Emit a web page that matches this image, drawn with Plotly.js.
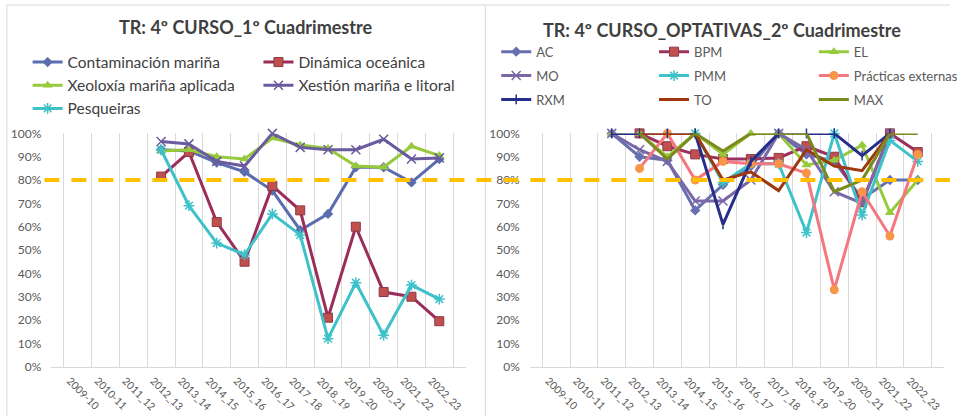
<!DOCTYPE html>
<html><head><meta charset="utf-8">
<script src="https://cdn.plot.ly/plotly-3.0.1.min.js"></script>
<style>html,body{margin:0;padding:0;background:#fff;} #chart{width:963px;height:416px;}</style>
</head><body><div id="chart"></div>
<script>
// ---- categories
const years = ["2009-10","2010-11","2011_12","2012_13","2013_14","2014_15","2015_16","2016_17","2017_18","2018_19","2019_20","2020_21","2021_22","2022_23"];

// ---- left chart: TR 4º CURSO_1º Cuadrimestre
const leftTitle = "TR: 4º CURSO_1º Cuadrimestre";
const contaminacion = [null,null,null,0.93,0.925,0.875,0.835,0.755,0.585,0.655,0.855,0.855,0.79,0.89];
const dinamica      = [null,null,null,0.815,0.92,0.62,0.45,0.775,0.67,0.21,0.60,0.32,0.30,0.195];
const xeoloxia      = [null,null,null,0.925,0.93,0.90,0.89,0.98,0.95,0.935,0.86,0.855,0.945,0.905];
const xestion       = [null,null,null,0.965,0.955,0.88,0.86,1.00,0.94,0.93,0.93,0.975,0.89,0.895];
const pesqueiras    = [null,null,null,0.93,0.69,0.53,0.48,0.655,0.565,0.12,0.36,0.135,0.35,0.29];

// ---- right chart: TR 4º CURSO_OPTATIVAS_2º Cuadrimestre
const rightTitle = "TR: 4º CURSO_OPTATIVAS_2º Cuadrimestre";
const AC        = [null,null,1.00,0.90,0.885,0.67,0.78,0.86,1.00,0.91,0.88,0.72,0.80,0.80];
const BPM       = [null,null,null,1.00,0.945,0.91,0.89,0.89,0.895,0.945,0.90,0.705,1.00,0.92];
const EL        = [null,null,1.00,1.00,0.90,1.00,0.91,1.00,1.00,0.865,0.885,0.95,0.66,0.80];
const MO        = [null,null,1.00,0.93,0.88,0.71,0.71,0.80,1.00,0.93,0.75,0.70,1.00,null];
const PMM       = [null,null,null,null,null,1.00,0.79,0.87,0.87,0.575,1.00,0.65,0.97,0.88];
const practicas = [null,null,null,0.85,1.00,0.80,0.88,0.87,0.87,0.83,0.33,0.75,0.56,0.91];
const RXM       = [null,null,1.00,1.00,1.00,1.00,0.61,0.88,1.00,1.00,1.00,0.905,1.00,null];
const TO        = [null,null,null,1.00,1.00,1.00,0.80,0.835,0.755,0.93,0.86,0.84,1.00,null];
const MAX       = [null,null,null,1.00,0.89,1.00,0.925,1.00,1.00,1.00,0.75,0.80,1.00,1.00];

const threshold = 0.8;

const FONT = 'Lato, "Open Sans", sans-serif';
const W = 963, H = 416;
const px = v => v / W;
const py = v => 1 - v / H;

function tr(name, y, lineColor, marker, xa, ya, legend, group) {
  const t = {type:'scatter', x:years, y:y, name:name, xaxis:xa, yaxis:ya, legend:legend,
    mode: marker ? 'lines+markers' : 'lines', line:{color:lineColor, width:3},
    cliponaxis:false, connectgaps:false, hoverinfo:'skip'};
  if (marker) t.marker = marker;
  if (group) t.legendgroup = group;
  return t;
}

const traces = [
  tr('Contaminación mariña', contaminacion, '#5B6DAF', {symbol:'diamond', size:8, color:'#5B6DAF'}, 'x','y','legend'),
  tr('Dinámica oceánica', dinamica, '#9B2D5A', {symbol:'square', size:9, color:'#C0504D', line:{color:'#8C3846', width:1}}, 'x','y','legend2'),
  tr('Xeoloxía mariña aplicada', xeoloxia, '#97C93D', {symbol:'triangle-up', size:9, color:'#97C93D'}, 'x','y','legend'),
  tr('Xestión mariña e litoral', xestion, '#6A5B9E', {symbol:'x-thin-open', size:9, color:'#6A5B9E', line:{color:'#6A5B9E', width:1.5}}, 'x','y','legend2'),
  tr('Pesqueiras', pesqueiras, '#3EC1C9', {symbol:'asterisk-open', size:9, color:'#3EC1C9', line:{color:'#3EC1C9', width:1.5}}, 'x','y','legend'),

  tr('AC', AC, '#6670B0', {symbol:'diamond', size:8, color:'#6670B0'}, 'x2','y2','legend3','g1'),
  tr('BPM', BPM, '#9E3060', {symbol:'square', size:9, color:'#C0504D', line:{color:'#8C3846', width:1}}, 'x2','y2','legend4','g2'),
  tr('EL', EL, '#97C93D', {symbol:'triangle-up', size:9, color:'#97C93D'}, 'x2','y2','legend5','g3'),
  tr('MO', MO, '#7A68A6', {symbol:'x-thin-open', size:9, color:'#7A68A6', line:{color:'#7A68A6', width:1.5}}, 'x2','y2','legend3','g4'),
  tr('PMM', PMM, '#3EC1C9', {symbol:'asterisk-open', size:9, color:'#3EC1C9', line:{color:'#3EC1C9', width:1.5}}, 'x2','y2','legend4','g5'),
  tr('Prácticas externas', practicas, '#F4777F', {symbol:'circle', size:9, color:'#F79646'}, 'x2','y2','legend5','g6'),
  tr('RXM', RXM, '#252E8A', {symbol:'line-ns-open', size:7, color:'#252E8A', line:{color:'#252E8A', width:1.5}}, 'x2','y2','legend3','g7'),
  tr('TO', TO, '#A0380F', null, 'x2','y2','legend4','g8'),
  tr('MAX', MAX, '#7B8A1E', null, 'x2','y2','legend5','g9')
];

const xBase = {type:'category', categoryorder:'array', categoryarray:years,
  tickson:'boundaries', showgrid:true, gridcolor:'#D9D9D9', gridwidth:1,
  showline:true, linecolor:'#D9D9D9', linewidth:1, ticks:'', tickangle:45,
  ticklabelshift:-8, ticklabelstandoff:3,
  tickfont:{family:FONT, size:10.5, color:'#595959'}, fixedrange:true, zeroline:false};
const yDomain = [(H-366.7)/H, (H-133.4)/H];
const yBase = {domain:yDomain, range:[0,1], dtick:0.1, tick0:0, tickformat:'.0%',
  showgrid:false, zeroline:false, showline:false, ticks:'',
  tickfont:{family:FONT, size:12, color:'#595959'}, fixedrange:true, ticklabelstandoff:9};

function leg(x, y, size, color, gap) {
  return {x:x, y:y, xanchor:'left', yanchor:'top', orientation:'v', bgcolor:'rgba(0,0,0,0)', borderwidth:0,
    tracegroupgap:gap, font:{family:FONT, size:size, color:color}};
}

const layout = {
  width:W, height:H, margin:{l:0, r:0, t:0, b:0}, paper_bgcolor:'#fff', plot_bgcolor:'rgba(0,0,0,0)', showlegend:true,
  xaxis: Object.assign({}, xBase, {domain:[px(52), px(472)], anchor:'y'}),
  yaxis: Object.assign({}, yBase, {anchor:'x'}),
  xaxis2: Object.assign({}, xBase, {domain:[px(537), px(957)], anchor:'y2'}),
  yaxis2: Object.assign({}, yBase, {anchor:'x2'}),
  legend:  leg(px(28),  py(45.5), 15.5, '#404040', 0),
  legend2: leg(px(262), py(45.5), 15.5, '#404040', 0),
  legend3: leg(px(503), py(36.7), 13, '#595959', 4),
  legend4: leg(px(663), py(36.7), 13, '#595959', 4),
  legend5: leg(px(825), py(36.7), 13, '#595959', 4),
  annotations: [
    {text:leftTitle, xref:'paper', yref:'paper', x:px(249), y:py(26.7), xanchor:'center', yanchor:'middle', showarrow:false, font:{family:FONT, size:18, color:'#404040', weight:'bold'}},
    {text:rightTitle, xref:'paper', yref:'paper', x:px(732), y:py(29.5), xanchor:'center', yanchor:'middle', showarrow:false, font:{family:FONT, size:18, color:'#404040', weight:'bold'}}
  ],
  shapes: [
    // chart frames
    {type:'line', xref:'paper', yref:'paper', x0:px(7), x1:px(7), y0:0, y1:py(5), line:{color:'#D9D9D9', width:1}, layer:'above'},
    {type:'line', xref:'paper', yref:'paper', x0:px(7), x1:1, y0:py(5), y1:py(5), line:{color:'#D9D9D9', width:1}, layer:'above'},
    // right chart overlapping the left one
    {type:'rect', xref:'paper', yref:'paper', x0:px(492.5), x1:px(536), y0:0, y1:0.095, fillcolor:'#fff', line:{width:0}, layer:'above'},
    {type:'line', xref:'paper', yref:'paper', x0:px(492), x1:px(492), y0:0, y1:py(5), line:{color:'#D9D9D9', width:1}, layer:'above'},
    // 80% target line
    {type:'line', xref:'paper', yref:'y', x0:px(45), x1:1, y0:threshold, y1:threshold, line:{color:'#FFC000', width:4, dash:'15px,12px'}, layer:'above'}
  ]
};

Plotly.newPlot('chart', traces, layout, {staticPlot:true, displayModeBar:false});
</script>
</body></html>
